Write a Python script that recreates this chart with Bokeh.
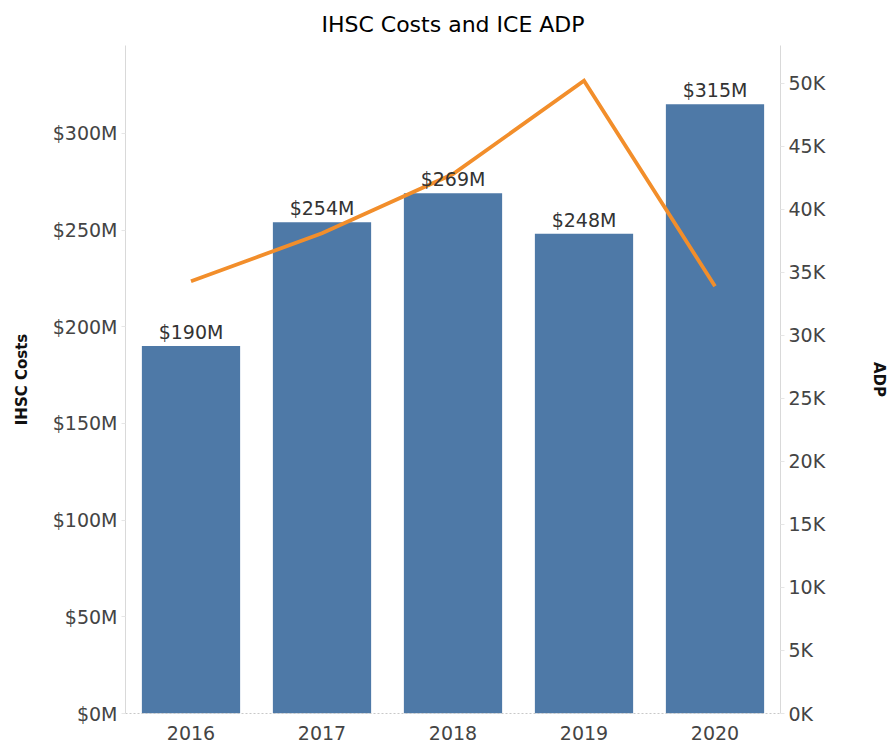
from bokeh.plotting import figure
from bokeh.models import (LinearAxis, Range1d, FactorRange, ColumnDataSource,
                          PrintfTickFormatter, CustomJSTickFormatter, FixedTicker)
from bokeh.core.properties import value
from bokeh.embed import file_html
from bokeh.resources import INLINE

years = ["2016", "2017", "2018", "2019", "2020"]
ihsc_costs_m = [190, 254, 269, 248, 315]
ice_adp = [34300, 38100, 42800, 50200, 33900]
cost_labels = ["$190M", "$254M", "$269M", "$248M", "$315M"]
cost_ticks = [0, 50, 100, 150, 200, 250, 300]
adp_ticks = [0, 5000, 10000, 15000, 20000, 25000, 30000, 35000, 40000, 45000, 50000]

FONT = "DejaVu Sans"
BLUE = "#4e79a7"
ORANGE = "#f28e2b"

p = figure(x_range=FactorRange(*years, range_padding=0),
           y_range=Range1d(0, 345.4),
           frame_width=655, frame_height=668,
           min_border_left=125, min_border_right=108,
           min_border_top=45, min_border_bottom=32,
           output_backend="svg", toolbar_location=None,
           title="IHSC Costs and ICE ADP")
p.outline_line_color = None
p.xgrid.grid_line_color = None
p.ygrid.grid_line_color = None
p.background_fill_color = "white"
p.border_fill_color = "white"

p.title.align = "center"
p.title.vertical_align = "bottom"
p.title.text_font = FONT
p.title.text_font_size = "22px"
p.title.text_font_style = "normal"
p.title.text_color = "#000000"
p.title.standoff = 18

p.extra_y_ranges = {"adp": Range1d(0, 53000)}

src = ColumnDataSource(dict(year=years, cost=ihsc_costs_m, adp=ice_adp, lbl=cost_labels))

p.vbar(x="year", top="cost", width=0.75, source=src, color=BLUE, line_color=None)
p.line(x="year", y="adp", source=src, y_range_name="adp", line_color=ORANGE,
       line_width=3.8, line_join="miter")
p.text(x="year", y="cost", text="lbl", source=src, text_align="center",
       text_baseline="bottom", y_offset=-3, text_font=value(FONT),
       text_font_size="19px", text_color="#333333")

# left axis
la = p.yaxis[0]
la.ticker = FixedTicker(ticks=cost_ticks)
la.formatter = PrintfTickFormatter(format="$%dM")
la.axis_label = "IHSC Costs"
la.axis_label_text_font = FONT
la.axis_label_text_font_style = "bold"
la.axis_label_text_font_size = "15px"
la.axis_label_text_color = "#111111"
la.axis_label_standoff = 19
la.major_label_text_font = FONT
la.major_label_text_font_size = "19px"
la.major_label_text_color = "#444444"
la.axis_line_color = "#d9d9d9"
la.major_tick_line_color = "#e6e6e6"
la.major_tick_out = 4
la.major_tick_in = 0
la.minor_tick_line_color = None
la.major_label_standoff = 4

# right axis
ra = LinearAxis(y_range_name="adp")
ra.ticker = FixedTicker(ticks=adp_ticks)
ra.formatter = CustomJSTickFormatter(code="return (tick/1000).toFixed(0) + 'K';")
ra.axis_label = "ADP"
ra.axis_label_text_font = FONT
ra.axis_label_text_font_style = "bold"
ra.axis_label_text_font_size = "15px"
ra.axis_label_text_color = "#111111"
ra.axis_label_standoff = 42
ra.major_label_text_font = FONT
ra.major_label_text_font_size = "19px"
ra.major_label_text_color = "#444444"
ra.axis_line_color = "#d9d9d9"
ra.major_tick_line_color = "#e6e6e6"
ra.major_tick_out = 4
ra.major_tick_in = 0
ra.minor_tick_line_color = None
ra.major_label_standoff = 4
p.add_layout(ra, "right")

# x axis
xa = p.xaxis[0]
xa.major_label_text_font = FONT
xa.major_label_text_font_size = "19px"
xa.major_label_text_color = "#444444"
xa.axis_line_color = "#c8c8c8"
xa.axis_line_dash = "2 2"
xa.major_tick_line_color = None
xa.major_label_standoff = 6

open("out.html", "w").write(file_html(p, INLINE))
